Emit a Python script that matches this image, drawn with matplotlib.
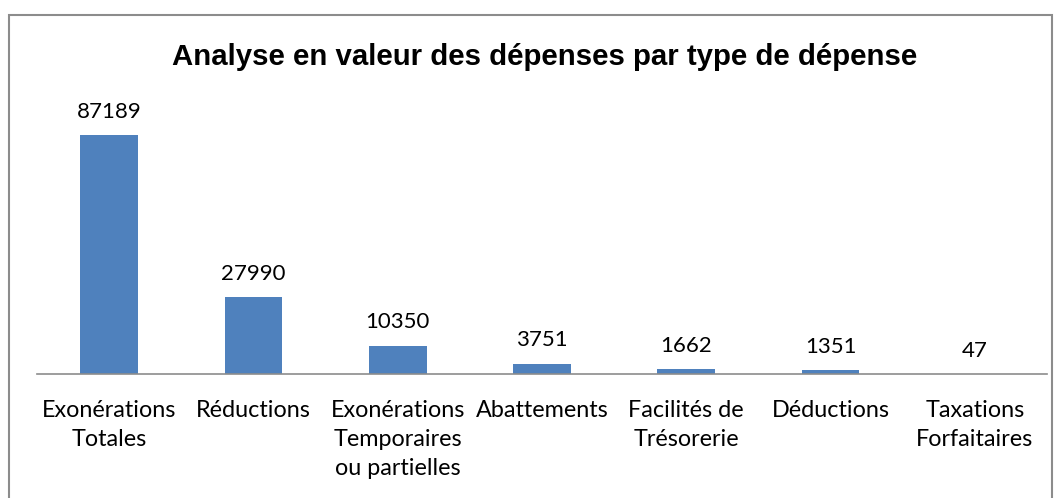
import matplotlib.pyplot as plt
from matplotlib.patches import Rectangle

# données du graphique
categories = ['Exonérations\nTotales', 'Réductions', 'Exonérations\nTemporaires\nou partielles',
              'Abattements', 'Facilités de\nTrésorerie', 'Déductions', 'Taxations\nForfaitaires']
valeurs = [87189, 27990, 10350, 3751, 1662, 1351, 47]

plt.rcParams['font.family'] = ['Lato', 'DejaVu Sans']

fig = plt.figure(figsize=(10.62, 4.98), dpi=100)
# cadre gris autour du graphique
fig.patches.append(Rectangle((9 / 1062, -0.01), (1052 - 9) / 1062, 1 - 15 / 498 + 0.01,
                             transform=fig.transFigure, fill=False, edgecolor='#8c8c8c', linewidth=1.5))

ax = fig.add_axes([37 / 1062, 1 - 374 / 498, (1047 - 37) / 1062, (374 - 100) / 498])
x = range(len(categories))
bars = ax.bar(x, valeurs, width=0.4, color='#4F81BD')
ax.set_xlim(-0.5, len(categories) - 0.5)
ax.set_ylim(0, 100000)

for xi, v in zip(x, valeurs):
    ax.annotate(str(v), (xi, v), xytext=(0, 12.5), textcoords='offset points',
                ha='center', va='baseline', fontsize=16)

ax.set_xticks(list(x))
ax.set_xticklabels(categories, fontsize=16.8, linespacing=1.45)
ax.tick_params(axis='x', length=0, pad=19)
ax.set_yticks([])
for s in ['top', 'right', 'left']:
    ax.spines[s].set_visible(False)
ax.spines['bottom'].set_color('#8c8c8c')
ax.spines['bottom'].set_linewidth(1.2)

fig.text(545 / 1062, 1 - 57 / 498, 'Analyse en valeur des dépenses par type de dépense',
         ha='center', va='center', fontsize=21.2, fontweight='bold', family=['Liberation Sans', 'DejaVu Sans'])

plt.savefig('out.png', dpi=100)
